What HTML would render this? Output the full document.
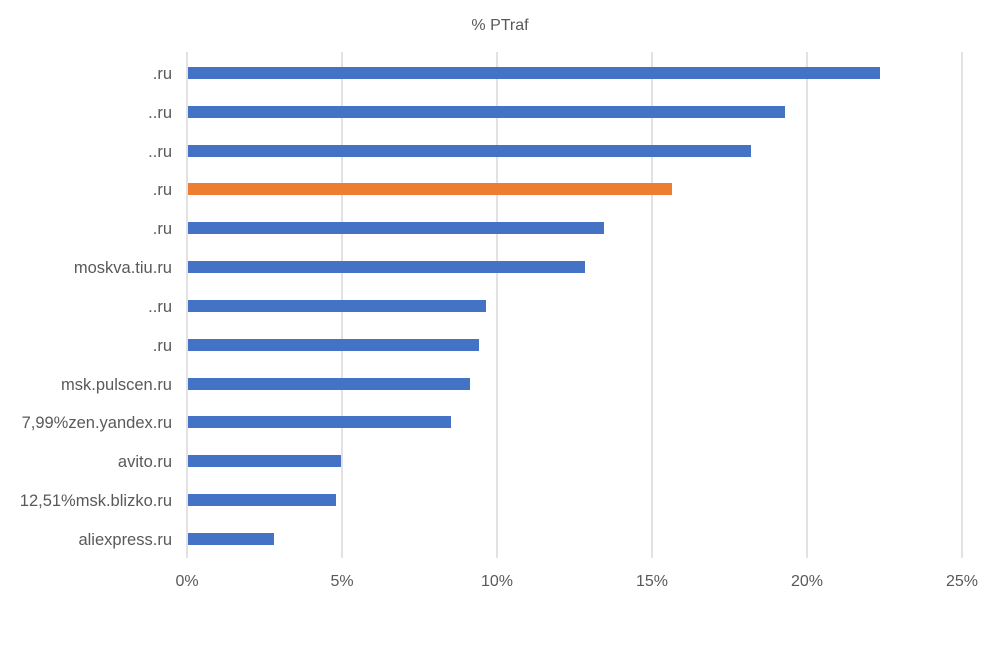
<!DOCTYPE html><html><head><style>body{margin:0;background:#fff}svg text{font-family:"Liberation Sans",sans-serif;fill:#595959}</style></head><body>
<svg width="1000" height="645" xmlns="http://www.w3.org/2000/svg">
<text x="500" y="30" font-size="16" text-anchor="middle">% PTraf</text>
<g stroke="#d9d9d9" stroke-width="1.5">
<line x1="342" y1="52" x2="342" y2="558"/><line x1="497" y1="52" x2="497" y2="558"/><line x1="652" y1="52" x2="652" y2="558"/><line x1="807" y1="52" x2="807" y2="558"/><line x1="962" y1="52" x2="962" y2="558"/>
<line x1="187" y1="52" x2="187" y2="558"/></g>
<g fill="#4472c4">
<rect x="188" y="67" width="692" height="12"/>
<rect x="188" y="106" width="597" height="12"/>
<rect x="188" y="145" width="563" height="12"/>
<rect x="188" y="183" width="484" height="12" fill="#ed7d31"/>
<rect x="188" y="222" width="416" height="12"/>
<rect x="188" y="261" width="397" height="12"/>
<rect x="188" y="300" width="298" height="12"/>
<rect x="188" y="339" width="291" height="12"/>
<rect x="188" y="378" width="282" height="12"/>
<rect x="188" y="416" width="263" height="12"/>
<rect x="188" y="455" width="153" height="12"/>
<rect x="188" y="494" width="148" height="12"/>
<rect x="188" y="533" width="86" height="12"/>
</g>
<g font-size="16.5" text-anchor="end">
<text x="172" y="79">.ru</text><text x="172" y="118">..ru</text><text x="172" y="157">..ru</text><text x="172" y="195">.ru</text><text x="172" y="234">.ru</text>
<text x="172" y="273">moskva.tiu.ru</text><text x="172" y="312">..ru</text><text x="172" y="351">.ru</text><text x="172" y="390">msk.pulscen.ru</text><text x="172" y="428">7,99%zen.yandex.ru</text><text x="172" y="467">avito.ru</text><text x="172" y="506">12,51%msk.blizko.ru</text><text x="172" y="545">aliexpress.ru</text>
</g>
<g font-size="16" text-anchor="middle">
<text x="187" y="586">0%</text><text x="342" y="586">5%</text><text x="497" y="586">10%</text><text x="652" y="586">15%</text><text x="807" y="586">20%</text><text x="962" y="586">25%</text>
</g>
</svg></body></html>
